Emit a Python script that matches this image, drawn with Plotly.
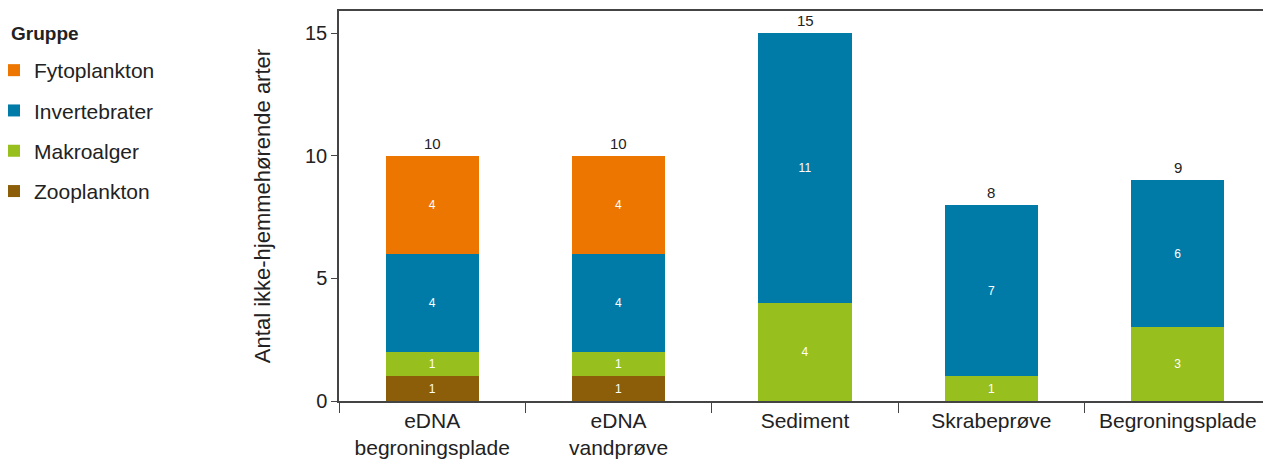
import plotly.graph_objects as go

categories = ["eDNA<br>begroningsplade", "eDNA<br>vandprøve", "Sediment", "Skrabeprøve", "Begroningsplade"]
zooplankton = [1, 1, None, None, None]
makroalger = [1, 1, 4, 1, 3]
invertebrater = [4, 4, 11, 7, 6]
fytoplankton = [4, 4, None, None, None]
totals = [10, 10, 15, 8, 9]

series = [
    ("Zooplankton", zooplankton, "#8C5E0A", 4),
    ("Makroalger", makroalger, "#97BF1E", 3),
    ("Invertebrater", invertebrater, "#007BA7", 2),
    ("Fytoplankton", fytoplankton, "#EC7600", 1),
]

FONT = "Arial, Liberation Sans, sans-serif"
W, H = 1263, 451
L, T, B = 331, 3, 58
PW, PH = W - L, H - T - B

fig = go.Figure()
for name, vals, col, rank in series:
    fig.add_trace(go.Bar(
        x=categories, y=vals, name=name, marker=dict(color=col, line=dict(width=0)),
        width=0.5, text=[("" if v is None else str(v)) for v in vals],
        textposition="inside", insidetextanchor="middle", textangle=0,
        textfont=dict(color="white", size=12, family=FONT),
        constraintext="none", legendgroup=name, legendrank=rank,
    ))

for c, t in zip(categories, totals):
    fig.add_annotation(x=c, y=t, text=str(t), showarrow=False, yanchor="bottom",
                       yshift=2, font=dict(size=15, color="#222", family=FONT))

fig.add_annotation(text="<b>Gruppe</b>", xref="paper", yref="paper",
                   x=(1 - L) / PW, y=(H - B - 25) / PH, xanchor="left", yanchor="middle",
                   showarrow=False, font=dict(size=19, color="#222", family=FONT))

fig.update_layout(
    width=W, height=H,
    margin=dict(l=L, r=0, t=T, b=B, autoexpand=False),
    barmode="stack",
    plot_bgcolor="white", paper_bgcolor="white",
    font=dict(family=FONT, size=20, color="#222"),
    showlegend=True,
    legend=dict(
        x=(-14 - L) / PW, y=(H - B - 42) / PH,
        xanchor="left", yanchor="top", traceorder="grouped",
        tracegroupgap=10, font=dict(size=21), itemwidth=30,
    ),
    xaxis=dict(
        showline=True, linecolor="#444", linewidth=1.5, mirror=True,
        ticks="outside", tickson="boundaries", ticklen=10, tickcolor="#444",
        tickfont=dict(size=21), range=[-0.5, 4.5], automargin=False,
    ),
    yaxis=dict(
        range=[0, 15.9], tickvals=[0, 5, 10, 15], showgrid=False, zeroline=False,
        showline=True, linecolor="#444", linewidth=1.5, automargin=False,
        ticks="outside", ticklen=6, tickcolor="#444", tickfont=dict(size=20),
        title=dict(text="Antal ikke-hjemmehørende arter", font=dict(size=22), standoff=28),
    ),
)

fig.write_html("out.html")
